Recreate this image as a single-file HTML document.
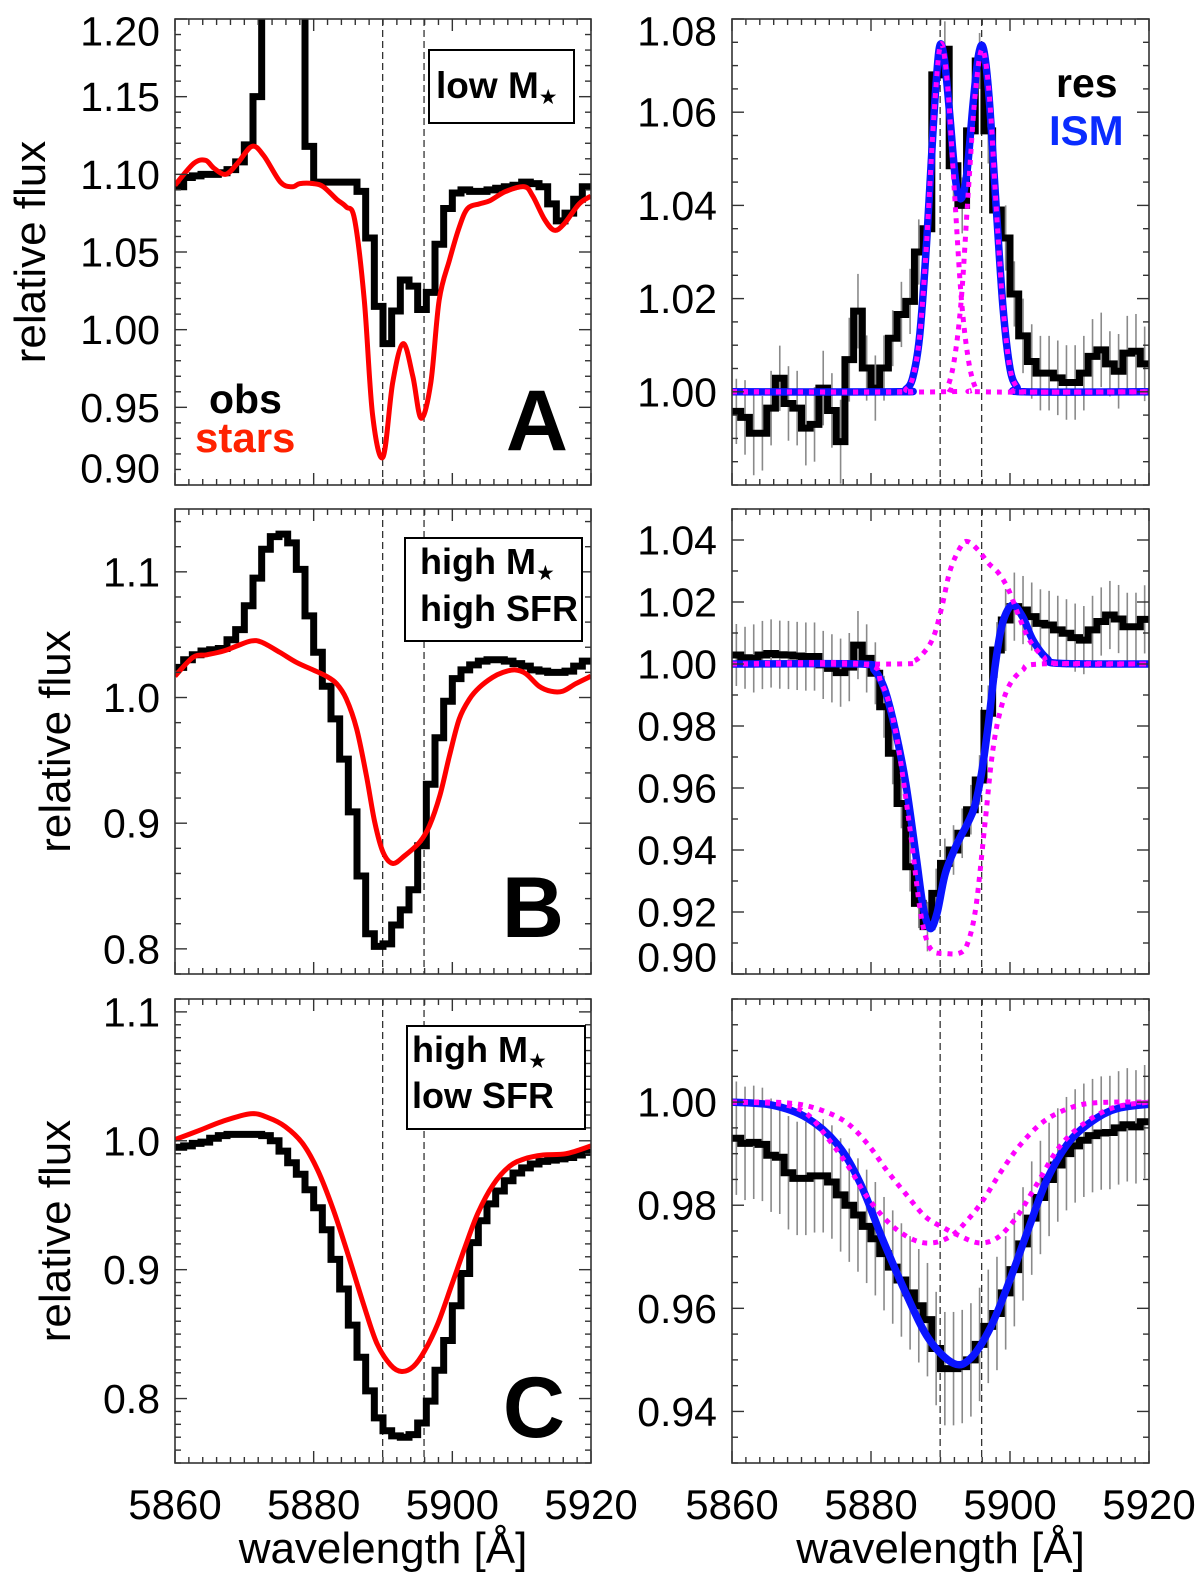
<!DOCTYPE html>
<html><head><meta charset="utf-8">
<style>
html,body{margin:0;padding:0;background:#fff;}
body{position:relative;}
svg{display:block;font-family:"Liberation Sans","DejaVu Sans",sans-serif;}
</style></head>
<body>
<svg id="fig" width="1200" height="1583" viewBox="0 0 1200 1583" xmlns="http://www.w3.org/2000/svg"></svg>
<script>
// ---------- data ----------
const wavelengthTicks = [5860, 5880, 5900, 5920];
const wavelengthTickLabels = ["5860", "5880", "5900", "5920"];
const naDLines = [5889.95, 5895.92];
const binStart = 5860;
const binWidth = 1.25;

// Panel A (left)
const aObs = [1.092,1.098,1.099,1.100,1.100,1.101,1.103,1.108,1.119,1.150,1.220,1.250,1.250,1.250,1.250,1.118,1.095,1.095,1.095,1.095,1.095,1.089,1.059,1.015,0.991,1.012,1.032,1.028,1.013,1.024,1.055,1.078,1.088,1.090,1.089,1.089,1.090,1.091,1.092,1.093,1.095,1.094,1.092,1.081,1.070,1.075,1.084,1.092];
const aStarsX = [5860,5862.7,5864.4,5865.6,5867.3,5869,5871.1,5872.8,5875.2,5876.9,5878,5880,5881.4,5883.3,5884.7,5885.9,5887.3,5888.5,5890,5891.4,5892.9,5894.3,5895.5,5896.9,5898.1,5899.6,5901,5902.2,5903.9,5905.4,5907.7,5910.4,5911.6,5913.3,5914.7,5916.1,5918.3,5920];
const aStarsY = [1.093,1.107,1.109,1.104,1.100,1.107,1.118,1.112,1.095,1.092,1.094,1.094,1.092,1.084,1.079,1.071,1.019,0.945,0.918,0.966,0.991,0.970,0.943,0.966,1.019,1.045,1.066,1.078,1.081,1.083,1.089,1.092,1.086,1.071,1.064,1.068,1.081,1.086];
const aTicks = [0.90,0.95,1.00,1.05,1.10,1.15,1.20];
const aTickLabels = ["0.90","0.95","1.00","1.05","1.10","1.15","1.20"];

// Panel A (right, residual)
const aResObs = [0.9958,0.9945,0.9911,0.9911,0.9965,1.0029,0.9975,0.9965,0.9922,0.9930,1.0008,0.9960,0.9893,1.0069,1.0173,1.0051,1.0008,1.0051,1.0115,1.0166,1.0194,1.0300,1.0350,1.0680,1.0735,1.0485,1.0400,1.0560,1.0710,1.0560,1.0390,1.0330,1.0210,1.0120,1.0065,1.0040,1.0040,1.0030,1.0020,1.0020,1.0040,1.0076,1.0090,1.0060,1.0044,1.0083,1.0087,1.0060];
const aResErr = [0.007,0.008,0.009,0.008,0.008,0.007,0.008,0.008,0.008,0.008,0.008,0.008,0.009,0.009,0.008,0.007,0.007,0.007,0.006,0.007,0.007,0.007,0.008,0.005,0.006,0.007,0.006,0.006,0.006,0.007,0.007,0.007,0.007,0.008,0.008,0.008,0.008,0.008,0.008,0.008,0.008,0.008,0.008,0.007,0.008,0.008,0.008,0.008];
const aIsmX = [5860,5884,5885,5886,5887,5888,5889,5889.8,5890.5,5891.3,5892.2,5893,5893.8,5894.7,5895.5,5896.2,5897,5898,5899,5900,5901,5902,5920];
const aIsmY = [1.000,1.000,1.0005,1.003,1.012,1.032,1.058,1.0735,1.072,1.060,1.045,1.0415,1.047,1.062,1.0725,1.0735,1.063,1.040,1.018,1.005,1.001,1.000,1.000];
const aComp1X = [5860,5884,5885,5886,5887,5888,5889,5890,5891,5892,5893,5894,5895,5896,5920];
const aComp1Y = [1.000,1.000,1.0005,1.003,1.012,1.032,1.058,1.0745,1.066,1.043,1.020,1.007,1.001,1.000,1.000];
const aComp2X = [5860,5890,5891,5892,5893,5894,5895,5896,5897,5898,5899,5900,5901,5902,5920];
const aComp2Y = [1.000,1.000,1.001,1.007,1.020,1.043,1.064,1.0735,1.064,1.040,1.018,1.005,1.001,1.000,1.000];
const aResTicks = [1.00,1.02,1.04,1.06,1.08];
const aResTickLabels = ["1.00","1.02","1.04","1.06","1.08"];

// Panel B (left)
const bObs = [1.024,1.030,1.034,1.037,1.038,1.039,1.046,1.054,1.073,1.095,1.118,1.128,1.130,1.123,1.102,1.065,1.036,1.009,0.983,0.951,0.909,0.858,0.812,0.802,0.804,0.819,0.831,0.847,0.882,0.931,0.968,0.997,1.015,1.022,1.026,1.029,1.030,1.030,1.029,1.027,1.025,1.022,1.021,1.020,1.020,1.021,1.025,1.029];
const bStarsX = [5860,5862.6,5864.6,5867,5868.9,5871,5872.5,5875.1,5877.5,5879.9,5881.8,5883.3,5884.7,5886.2,5887.6,5888.8,5890,5891.4,5893.1,5895.3,5896.7,5898.2,5899.6,5901,5902.5,5903.9,5905.8,5907.3,5909,5910.6,5912.5,5914.2,5915.9,5917.8,5920];
const bStarsY = [1.017,1.032,1.034,1.037,1.041,1.045,1.044,1.036,1.028,1.022,1.017,1.011,0.999,0.975,0.938,0.901,0.877,0.868,0.874,0.885,0.898,0.922,0.954,0.983,0.999,1.008,1.016,1.020,1.022,1.019,1.009,1.005,1.005,1.011,1.017];
const bTicks = [0.8,0.9,1.0,1.1];
const bTickLabels = ["0.8","0.9","1.0","1.1"];

// Panel B (right)
const bResObs = [1.0029,1.0020,1.0018,1.0029,1.0034,1.0030,1.0029,1.0026,1.0024,1.0024,0.9997,0.9986,0.9972,0.9990,1.0061,1.0018,0.9970,0.9862,0.9712,0.9550,0.9346,0.9228,0.9153,0.9260,0.9357,0.9400,0.9454,0.9530,0.9626,0.9841,1.0045,1.0142,1.0185,1.0174,1.0153,1.0131,1.0126,1.0110,1.0099,1.0085,1.0077,1.0110,1.0137,1.0158,1.0145,1.0120,1.0120,1.0144];
const bResErr = [0.010,0.010,0.011,0.011,0.011,0.011,0.011,0.011,0.011,0.011,0.011,0.011,0.011,0.011,0.011,0.011,0.010,0.010,0.010,0.008,0.008,0.008,0.008,0.008,0.008,0.008,0.008,0.008,0.008,0.009,0.009,0.010,0.011,0.011,0.011,0.011,0.011,0.011,0.011,0.011,0.011,0.011,0.011,0.011,0.011,0.011,0.011,0.011];
const bIsmX = [5860,5878.6,5880.5,5882,5883.5,5885,5886.5,5887.5,5888.5,5889.5,5890.7,5892.4,5893.9,5894.9,5895.9,5896.9,5897.9,5898.9,5900.3,5901.8,5903.3,5905.3,5907.3,5920];
const bIsmY = [1.000,1.000,0.998,0.9916,0.9787,0.9615,0.9378,0.9217,0.9147,0.9196,0.9325,0.9421,0.9486,0.9540,0.9647,0.9809,1.000,1.013,1.019,1.0153,1.0077,1.0018,1.0002,1.000];
const bComp1X = [5860,5878.6,5881.5,5883.5,5885.5,5887,5888,5889,5890.4,5892.7,5893.9,5895.1,5896.4,5897.4,5898.4,5899.8,5901.8,5904.3,5920];
const bComp1Y = [1.000,1.000,0.9938,0.9787,0.9486,0.9217,0.911,0.9072,0.9067,0.9067,0.9099,0.9217,0.9486,0.970,0.983,0.9927,0.998,1.000,1.000];
const bComp2X = [5860,5883.5,5886,5887.5,5889,5890.2,5891.4,5892.9,5893.9,5895.4,5896.9,5898.4,5899.8,5901.3,5902.8,5904.8,5906.8,5920];
const bComp2Y = [1.000,1.000,1.0008,1.0034,1.0088,1.0185,1.0303,1.0378,1.0395,1.0368,1.0325,1.0292,1.0239,1.0153,1.0077,1.0024,1.0002,1.000];
const bResTicks = [0.90,0.92,0.94,0.96,0.98,1.00,1.02,1.04];
const bResTickLabels = ["0.90","0.92","0.94","0.96","0.98","1.00","1.02","1.04"];

// Panel C (left)
const cObs = [0.995,0.996,0.998,0.999,1.002,1.004,1.005,1.005,1.005,1.005,1.004,1.000,0.992,0.983,0.974,0.962,0.948,0.931,0.908,0.885,0.857,0.832,0.806,0.785,0.775,0.771,0.770,0.772,0.781,0.798,0.822,0.845,0.872,0.897,0.921,0.938,0.951,0.961,0.969,0.975,0.979,0.982,0.984,0.985,0.986,0.987,0.989,0.991];
const cStarsX = [5860,5863.5,5866.8,5870.9,5873.4,5875.9,5878.4,5880.6,5882.8,5885,5887.2,5889.1,5891.1,5892.7,5894.4,5896,5897.9,5899.9,5901.8,5903.7,5905.9,5908.2,5910.4,5913.1,5916.4,5920];
const cStarsY = [1.001,1.008,1.015,1.021,1.018,1.011,0.998,0.977,0.947,0.911,0.873,0.843,0.826,0.821,0.825,0.837,0.858,0.888,0.917,0.944,0.966,0.980,0.986,0.989,0.990,0.996];
const cTicks = [0.8,0.9,1.0,1.1];
const cTickLabels = ["0.8","0.9","1.0","1.1"];

// Panel C (right)
const cResObs = [0.9930,0.9920,0.9922,0.9918,0.9897,0.9893,0.9863,0.9852,0.9852,0.9857,0.9857,0.9845,0.9820,0.9800,0.9781,0.9759,0.9735,0.9706,0.9680,0.9655,0.9630,0.9605,0.9578,0.9522,0.9483,0.9483,0.9487,0.9500,0.9530,0.9565,0.9590,0.9630,0.9675,0.9725,0.9775,0.9815,0.9850,0.9878,0.9900,0.9915,0.9926,0.9935,0.9940,0.9941,0.9950,0.9956,0.9952,0.9962];
const cResErr = [0.011,0.011,0.011,0.011,0.011,0.011,0.011,0.011,0.011,0.011,0.011,0.011,0.011,0.011,0.011,0.011,0.011,0.011,0.011,0.011,0.011,0.011,0.011,0.011,0.011,0.011,0.011,0.011,0.011,0.011,0.011,0.011,0.011,0.011,0.011,0.011,0.011,0.011,0.011,0.011,0.011,0.011,0.011,0.011,0.011,0.011,0.011,0.011];
const cIsmX = [5860,5865.8,5870.7,5875.1,5878.4,5881.7,5885,5888.3,5891.9,5894.4,5897.2,5899.9,5902.7,5905.4,5908.7,5912.6,5915.9,5920];
const cIsmY = [1.000,0.9994,0.997,0.9919,0.9844,0.9733,0.963,0.9541,0.9493,0.9504,0.9563,0.9652,0.9756,0.9852,0.9926,0.997,0.9989,0.9996];
const cComp1X = [5860,5866.9,5870.7,5874,5876.8,5879.5,5882.8,5886.1,5888.9,5891.6,5893.8,5896,5898.8,5901.6,5904.9,5908.7,5912.6,5920];
const cComp1Y = [1.000,0.9996,0.9978,0.9926,0.9874,0.9815,0.9763,0.9733,0.9727,0.9741,0.977,0.9807,0.9867,0.9919,0.9963,0.9989,0.9999,1.000];
const cComp2X = [5860,5867.4,5871.8,5876.2,5879.5,5882.3,5885,5887.8,5890.5,5892.7,5895.5,5898.2,5901,5903.7,5907,5910.4,5914.8,5920];
const cComp2Y = [1.000,0.9999,0.9989,0.9963,0.9919,0.9867,0.9822,0.9778,0.9756,0.9741,0.9727,0.9737,0.9778,0.9837,0.9911,0.9956,0.9989,1.000];
const cResTicks = [0.94,0.96,0.98,1.00];
const cResTickLabels = ["0.94","0.96","0.98","1.00"];

// ---------- drawing ----------
const NS = "http://www.w3.org/2000/svg";
const svg = document.getElementById("fig");
function mk(tag, attrs, parent) {
  const e = document.createElementNS(NS, tag);
  for (const k in attrs) e.setAttribute(k, attrs[k]);
  (parent || svg).appendChild(e);
  return e;
}
function smoothPath(pts) {
  let d = "M" + pts[0][0].toFixed(2) + "," + pts[0][1].toFixed(2);
  for (let i = 0; i < pts.length - 1; i++) {
    const p0 = pts[Math.max(0, i - 1)], p1 = pts[i], p2 = pts[i + 1], p3 = pts[Math.min(pts.length - 1, i + 2)];
    const c1x = p1[0] + (p2[0] - p0[0]) / 6, c1y = p1[1] + (p2[1] - p0[1]) / 6;
    const c2x = p2[0] - (p3[0] - p1[0]) / 6, c2y = p2[1] - (p3[1] - p1[1]) / 6;
    d += " C" + c1x.toFixed(2) + "," + c1y.toFixed(2) + " " + c2x.toFixed(2) + "," + c2y.toFixed(2) + " " + p2[0].toFixed(2) + "," + p2[1].toFixed(2);
  }
  return d;
}

let clipCount = 0;
function makePanel(cfg) {
  const g = mk("g", {});
  
  
  const X = w => cfg.x0 + (w - 5860) / 60 * (cfg.x1 - cfg.x0);
  const Y = v => cfg.y1 - (v - cfg.ymin) / (cfg.ymax - cfg.ymin) * (cfg.y1 - cfg.y0);
  const cid = "clip" + (clipCount++);
  const cp = mk("clipPath", { id: cid }, g);
  mk("rect", { x: cfg.x0, y: cfg.y0, width: cfg.x1 - cfg.x0, height: cfg.y1 - cfg.y0 }, cp);
  const plot = mk("g", { "clip-path": "url(#" + cid + ")" }, g);

  naDLines.forEach(w => {
    const l = mk("line", { x1: X(w), x2: X(w), y1: cfg.y0, y2: cfg.y1, stroke: "#333", "stroke-width": 1.3, "stroke-dasharray": "7,4" }, plot);
    
    
  });

  if (cfg.err) {
    cfg.obs.forEach((v, i) => {
      const xc = X(binStart + (i + 0.5) * binWidth);
      const e = mk("line", { x1: xc, x2: xc, y1: Y(v - cfg.err[i]), y2: Y(v + cfg.err[i]), stroke: "#8a8a8a", "stroke-width": 1.6 }, plot);
      
      
    });
  }
  let d = "M" + X(binStart) + "," + Y(cfg.obs[0]);
  cfg.obs.forEach((v, i) => {
    d += " H" + X(binStart + (i + 1) * binWidth).toFixed(2);
    if (i < cfg.obs.length - 1) d += " V" + Y(cfg.obs[i + 1]).toFixed(2);
  });
  const hp = mk("path", { d: d, fill: "none", stroke: "#000", "stroke-width": 7, "stroke-linejoin": "miter" }, plot);
  
  

  if (cfg.starsX) {
    const pts = cfg.starsX.map((w, i) => [X(w), Y(cfg.starsY[i])]);
    const sp = mk("path", { d: smoothPath(pts), fill: "none", stroke: "#ff0000", "stroke-width": 5, "stroke-linejoin": "round" }, plot);
    
    
  }
  if (cfg.ismX) {
    const pts = cfg.ismX.map((w, i) => [X(w), Y(cfg.ismY[i])]);
    const ip = mk("path", { d: smoothPath(pts), fill: "none", stroke: "#0a14ff", "stroke-width": 7.5, "stroke-linejoin": "round" }, plot);
    
    
    [[cfg.c1X, cfg.c1Y], [cfg.c2X, cfg.c2Y]].forEach(([cx, cy], k) => {
      const p = cx.map((w, i) => [X(w), Y(cy[i])]);
      const mp = mk("path", { d: smoothPath(p), fill: "none", stroke: "#ff00ff", "stroke-width": 5, "stroke-dasharray": "5,6" }, plot);
      
      
    });
  }

  const fr = mk("rect", { x: cfg.x0, y: cfg.y0, width: cfg.x1 - cfg.x0, height: cfg.y1 - cfg.y0, fill: "none", stroke: "#333", "stroke-width": 1.6 }, g);
  
  

  const tk = mk("g", { stroke: "#333", "stroke-width": 1.4 }, g);
  
  
  for (let w = 5860; w <= 5920; w += 2) {
    const major = (w - 5860) % 20 === 0;
    const L = major ? 12 : 6;
    mk("line", { x1: X(w), x2: X(w), y1: cfg.y1, y2: cfg.y1 - L }, tk);
    mk("line", { x1: X(w), x2: X(w), y1: cfg.y0, y2: cfg.y0 + L }, tk);
  }
  const nMin = Math.round((cfg.ymax - cfg.ymin) / cfg.minor);
  const startMin = Math.ceil(cfg.ymin / cfg.minor - 1e-6) * cfg.minor;
  for (let k = 0; k <= nMin + 1; k++) {
    const v = startMin + k * cfg.minor;
    if (v > cfg.ymax + 1e-6) break;
    const major = cfg.ticks.some(t => Math.abs(t - v) < 1e-6);
    const L = major ? 12 : 6;
    mk("line", { x1: cfg.x0, x2: cfg.x0 + L, y1: Y(v), y2: Y(v) }, tk);
    mk("line", { x1: cfg.x1, x2: cfg.x1 - L, y1: Y(v), y2: Y(v) }, tk);
  }
  cfg.ticks.forEach((v, i) => {
    let cy = Y(v);
    cy = Math.max(cfg.y0 + 12, Math.min(cfg.y1 - 17, cy));
    const t = mk("text", { x: cfg.x0 - 15, y: cy + 14.5, "text-anchor": "end", "font-size": 41, fill: "#000" }, g);
    t.textContent = cfg.tickLabels[i];
    
    
  });
  if (cfg.xlabels) {
    wavelengthTicks.forEach((w, i) => {
      const t = mk("text", { x: X(w), y: 1519, "text-anchor": "middle", "font-size": 42, fill: "#000" }, g);
      t.textContent = wavelengthTickLabels[i];
      
      
    });
    const xt = mk("text", { x: (cfg.x0 + cfg.x1) / 2, y: 1563, "text-anchor": "middle", "font-size": 44, fill: "#000" }, g);
    xt.textContent = "wavelength [Å]";
    
    
  }
  if (cfg.ytitleX) {
    const cyy = (cfg.y0 + cfg.y1) / 2;
    const yt = mk("text", { x: cfg.ytitleX, y: cyy, "text-anchor": "middle", "font-size": 44, fill: "#000", transform: "rotate(-90 " + cfg.ytitleX + " " + cyy + ")" }, g);
    yt.textContent = "relative flux";
    
    
  }
  return g;
}

const LX0 = 175, LX1 = 591, RX0 = 732, RX1 = 1149;
makePanel({ name: "panel-a-observed", x0: LX0, x1: LX1, y0: 19, y1: 485, ymin: 0.90, ymax: 1.20, minor: 0.01, ticks: aTicks, tickLabels: aTickLabels, obs: aObs, starsX: aStarsX, starsY: aStarsY, ytitleX: 45 });
makePanel({ name: "panel-a-residual", x0: RX0, x1: RX1, y0: 19, y1: 485, ymin: 0.98, ymax: 1.08, minor: 0.005, ticks: aResTicks, tickLabels: aResTickLabels, obs: aResObs, err: aResErr, ismX: aIsmX, ismY: aIsmY, c1X: aComp1X, c1Y: aComp1Y, c2X: aComp2X, c2Y: aComp2Y });
makePanel({ name: "panel-b-observed", x0: LX0, x1: LX1, y0: 509, y1: 974, ymin: 0.78, ymax: 1.15, minor: 0.02, ticks: bTicks, tickLabels: bTickLabels, obs: bObs, starsX: bStarsX, starsY: bStarsY, ytitleX: 70 });
makePanel({ name: "panel-b-residual", x0: RX0, x1: RX1, y0: 509, y1: 974, ymin: 0.90, ymax: 1.05, minor: 0.01, ticks: bResTicks, tickLabels: bResTickLabels, obs: bResObs, err: bResErr, ismX: bIsmX, ismY: bIsmY, c1X: bComp1X, c1Y: bComp1Y, c2X: bComp2X, c2Y: bComp2Y });
makePanel({ name: "panel-c-observed", x0: LX0, x1: LX1, y0: 999, y1: 1463, ymin: 0.75, ymax: 1.11, minor: 0.01, ticks: cTicks, tickLabels: cTickLabels, obs: cObs, starsX: cStarsX, starsY: cStarsY, ytitleX: 70, xlabels: true });
makePanel({ name: "panel-c-residual", x0: RX0, x1: RX1, y0: 999, y1: 1463, ymin: 0.93, ymax: 1.02, minor: 0.005, ticks: cResTicks, tickLabels: cResTickLabels, obs: cResObs, err: cResErr, ismX: cIsmX, ismY: cIsmY, c1X: cComp1X, c1Y: cComp1Y, c2X: cComp2X, c2Y: cComp2Y, xlabels: true });
</script>

<svg style="position:absolute;left:0;top:0" width="1200" height="1583" viewBox="0 0 1200 1583" xmlns="http://www.w3.org/2000/svg">
  <g font-family="Liberation Sans, DejaVu Sans, sans-serif" font-weight="bold">
    <rect x="429" y="50" width="145" height="73" fill="#fff" stroke="#000" stroke-width="2"/>
    <text x="436" y="98" font-size="37">low M<tspan font-family="DejaVu Sans, sans-serif" font-size="21" dy="6">★</tspan></text>
    <text x="568" y="450" font-size="86" text-anchor="end">A</text>
    <text x="209" y="413" font-size="41" fill="#000">obs</text>
    <text x="195" y="452" font-size="42" fill="#ff2200">stars</text>
    <text x="1056" y="97" font-size="41" fill="#000">res</text>
    <text x="1049" y="145" font-size="42" fill="#0a2cff">ISM</text>

    <rect x="405" y="538" width="177" height="103" fill="#fff" stroke="#000" stroke-width="2"/>
    <text x="420" y="574" font-size="36">high M<tspan font-family="DejaVu Sans, sans-serif" font-size="21" dy="6">★</tspan></text>
    <text x="420" y="621" font-size="36">high SFR</text>
    <text x="564" y="937" font-size="86" text-anchor="end">B</text>

    <rect x="407" y="1026" width="178" height="103" fill="#fff" stroke="#000" stroke-width="2"/>
    <text x="412" y="1062" font-size="36">high M<tspan font-family="DejaVu Sans, sans-serif" font-size="21" dy="6">★</tspan></text>
    <text x="412" y="1108" font-size="36">low SFR</text>
    <text x="565" y="1437" font-size="86" text-anchor="end">C</text>
  </g>
</svg>
</body></html>
